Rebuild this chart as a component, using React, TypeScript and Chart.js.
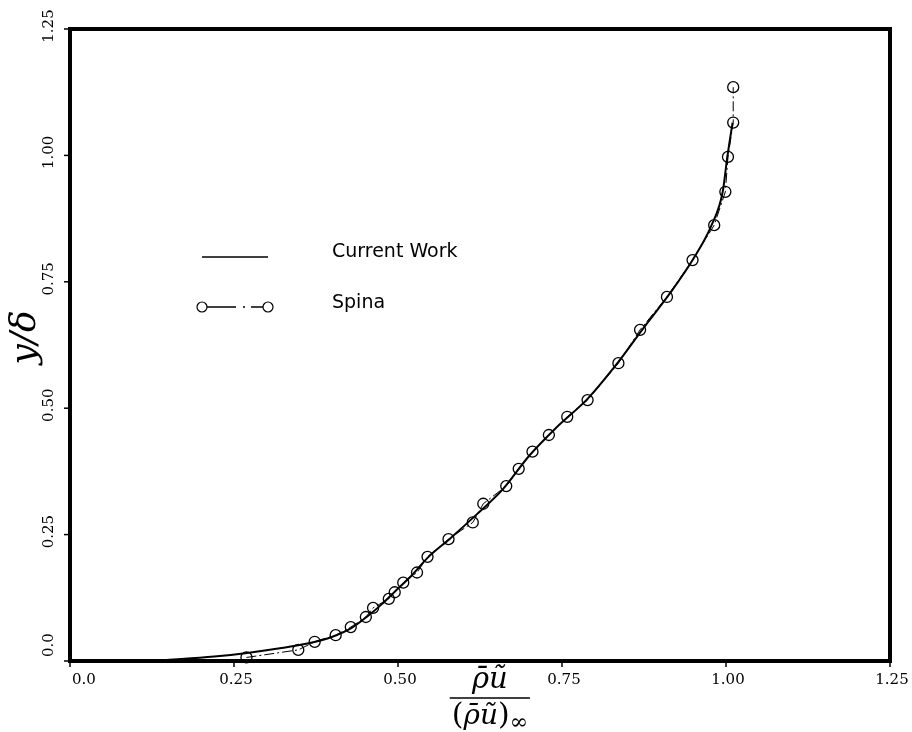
import React, { useEffect, useRef } from "react";
import { Chart, registerables } from "chart.js";

Chart.register(...registerables);

// ---- Data ----
const currentX = [0.09, 0.13, 0.17, 0.22, 0.27, 0.32, 0.36, 0.40, 0.43, 0.455, 0.475, 0.495, 0.52, 0.545, 0.58, 0.62, 0.66, 0.70, 0.74, 0.79, 0.835, 0.875, 0.915, 0.95, 0.978, 0.995, 1.002, 1.010];
const currentY = [0.0, 0.001, 0.004, 0.009, 0.016, 0.025, 0.034, 0.048, 0.066, 0.090, 0.112, 0.137, 0.168, 0.204, 0.243, 0.290, 0.340, 0.406, 0.460, 0.520, 0.590, 0.660, 0.728, 0.795, 0.862, 0.928, 0.997, 1.065];

const spinaX = [0.269, 0.348, 0.373, 0.405, 0.428, 0.451, 0.462, 0.486, 0.495, 0.508, 0.529, 0.545, 0.577, 0.614, 0.630, 0.665, 0.684, 0.705, 0.730, 0.758, 0.789, 0.836, 0.869, 0.910, 0.949, 0.982, 0.999, 1.003, 1.011, 1.011];
const spinaY = [0.007, 0.022, 0.038, 0.051, 0.067, 0.087, 0.105, 0.123, 0.136, 0.155, 0.175, 0.206, 0.241, 0.274, 0.311, 0.346, 0.380, 0.414, 0.447, 0.483, 0.516, 0.589, 0.655, 0.720, 0.793, 0.862, 0.928, 0.997, 1.065, 1.135];

const xTicks = [0, 0.25, 0.5, 0.75, 1.0, 1.25];
const xTickLabels = ["0.0", "0.25", "0.50", "0.75", "1.00", "1.25"];
const yTicks = [0, 0.25, 0.5, 0.75, 1.0, 1.25];
const yTickLabels = ["0.0", "0.25", "0.50", "0.75", "1.00", "1.25"];

const seriesLabels = ["Current Work", "Spina"];
const yTitle = "y/δ";
const xTitleNum = "ρ\u0304u\u0303";
const xTitleDenInner = "ρ\u0304u\u0303";
const xTitleSub = "∞";

const SERIF = '"DejaVu Serif", "Liberation Serif", serif';
const SANS = '"DejaVu Sans", "Liberation Sans", sans-serif';

const decorPlugin = {
  id: "decor",
  afterDatasetsDraw(chart: any) {
    const { ctx, chartArea: a, scales } = chart;
    const xs = scales.x;
    const ys = scales.y;
    ctx.save();
    ctx.strokeStyle = "#000";
    ctx.fillStyle = "#000";

    // frame
    ctx.lineWidth = 4;
    ctx.strokeRect(a.left, a.top, a.right - a.left, a.bottom - a.top);

    // tick marks
    ctx.lineWidth = 1.5;
    xTicks.forEach((v) => {
      const px = xs.getPixelForValue(v);
      ctx.beginPath();
      ctx.moveTo(px, a.bottom);
      ctx.lineTo(px, a.bottom + 6);
      ctx.stroke();
    });
    yTicks.forEach((v) => {
      const py = ys.getPixelForValue(v);
      ctx.beginPath();
      ctx.moveTo(a.left - 6, py);
      ctx.lineTo(a.left, py);
      ctx.stroke();
    });

    // tick labels
    ctx.font = "15px " + SERIF;
    ctx.textAlign = "center";
    ctx.textBaseline = "alphabetic";
    xTicks.forEach((v, i) => {
      const lbl = xTickLabels[i];
      const w = ctx.measureText(lbl).width;
      let cx = xs.getPixelForValue(v) + 2;
      cx = Math.max(cx, a.left + w / 2 + 2);
      ctx.fillText(lbl, cx, a.bottom + 23);
    });
    yTicks.forEach((v, i) => {
      const lbl = yTickLabels[i];
      const w = ctx.measureText(lbl).width;
      let cy = ys.getPixelForValue(v) - 3;
      cy = Math.min(cy, a.bottom - w / 2 - 4);
      ctx.save();
      ctx.translate(a.left - 17, cy);
      ctx.rotate(-Math.PI / 2);
      ctx.fillText(lbl, 0, 0);
      ctx.restore();
    });

    // y title
    ctx.save();
    ctx.font = "italic 36px " + SERIF;
    ctx.translate(a.left - 35, ys.getPixelForValue(0.64));
    ctx.rotate(-Math.PI / 2);
    ctx.textAlign = "center";
    ctx.fillText(yTitle, 0, 0);
    ctx.restore();

    // x title (fraction)
    const fx = xs.getPixelForValue(0.64);
    ctx.textAlign = "center";
    ctx.font = "italic 29px " + SERIF;
    ctx.fillText(xTitleNum, fx, a.bottom + 27);
    // denominator
    ctx.textAlign = "left";
    const upFont = "30px " + SERIF;
    const itFont = "italic 28px " + SERIF;
    const subFont = "22px " + SERIF;
    ctx.font = upFont;
    const wL = ctx.measureText("(").width;
    const wR = ctx.measureText(")").width;
    ctx.font = itFont;
    const wI = ctx.measureText(xTitleDenInner).width;
    ctx.font = subFont;
    const wS = ctx.measureText(xTitleSub).width;
    const total = wL + wI + wR + wS;
    let dx = fx - total / 2;
    const dy = a.bottom + 63;
    ctx.font = upFont;
    ctx.fillText("(", dx, dy);
    dx += wL;
    ctx.font = itFont;
    ctx.fillText(xTitleDenInner, dx, dy);
    dx += wI;
    ctx.font = upFont;
    ctx.fillText(")", dx, dy);
    dx += wR;
    ctx.font = subFont;
    ctx.fillText(xTitleSub, dx, dy + 5);
    // fraction bar
    ctx.lineWidth = 1.3;
    ctx.beginPath();
    ctx.moveTo(fx - total / 2 - 2, a.bottom + 37);
    ctx.lineTo(fx + total / 2 + 2, a.bottom + 37);
    ctx.stroke();

    // legend
    const lx0 = a.left + 132;
    const lx1 = a.left + 198;
    const tx = a.left + 262;
    const ly1 = a.top + 228;
    const ly2 = a.top + 278;
    ctx.lineWidth = 1.5;
    ctx.beginPath();
    ctx.moveTo(lx0, ly1);
    ctx.lineTo(lx1, ly1);
    ctx.stroke();
    // spina sample
    ctx.lineWidth = 1.2;
    ctx.beginPath();
    ctx.arc(lx0, ly2, 5, 0, Math.PI * 2);
    ctx.stroke();
    ctx.beginPath();
    ctx.arc(lx1, ly2, 5, 0, Math.PI * 2);
    ctx.stroke();
    ctx.lineWidth = 1.3;
    ctx.beginPath();
    ctx.moveTo(lx0 + 5, ly2);
    ctx.lineTo(lx0 + 34, ly2);
    ctx.moveTo(lx0 + 41, ly2);
    ctx.lineTo(lx0 + 43, ly2);
    ctx.moveTo(lx0 + 49, ly2);
    ctx.lineTo(lx1 - 5, ly2);
    ctx.stroke();
    ctx.font = "19px " + SANS;
    ctx.textAlign = "left";
    ctx.fillText(seriesLabels[0], tx, ly1);
    ctx.fillText(seriesLabels[1], tx, ly2 + 1);

    ctx.restore();
  },
};

export default function App() {
  const ref = useRef<HTMLCanvasElement | null>(null);
  useEffect(() => {
    if (!ref.current) return;
    const chart = new Chart(ref.current, {
      type: "line",
      data: {
        datasets: [
          {
            label: seriesLabels[0],
            data: currentX.map((x, i) => ({ x, y: currentY[i] })),
            borderColor: "#000",
            borderWidth: 2,
            pointRadius: 0,
            cubicInterpolationMode: "monotone",
            fill: false,
          },
          {
            label: seriesLabels[1],
            data: spinaX.map((x, i) => ({ x, y: spinaY[i] })),
            borderColor: "#000",
            borderWidth: 1,
            borderDash: [10, 3, 2, 3],
            pointRadius: 5.5,
            pointBorderWidth: 1.3,
            pointBorderColor: "#000",
            pointBackgroundColor: "rgba(255,255,255,0)",
            tension: 0,
            fill: false,
            clip: false,
          } as any,
        ],
      },
      options: {
        animation: false,
        responsive: false,
        devicePixelRatio: 1,
        events: [],
        layout: { padding: { left: 70, top: 29, right: 22, bottom: 71 } },
        plugins: { legend: { display: false }, tooltip: { enabled: false } },
        scales: {
          x: { type: "linear", min: 0, max: 1.25, display: false },
          y: { type: "linear", min: 0, max: 1.25, display: false },
        },
      },
      plugins: [decorPlugin],
    });
    return () => chart.destroy();
  }, []);
  return (
    <div style={{ position: "fixed", left: 0, top: 0, width: 912, height: 732, background: "#fff" }}>
      <canvas ref={ref} width={912} height={732} style={{ display: "block" }} />
    </div>
  );
}
